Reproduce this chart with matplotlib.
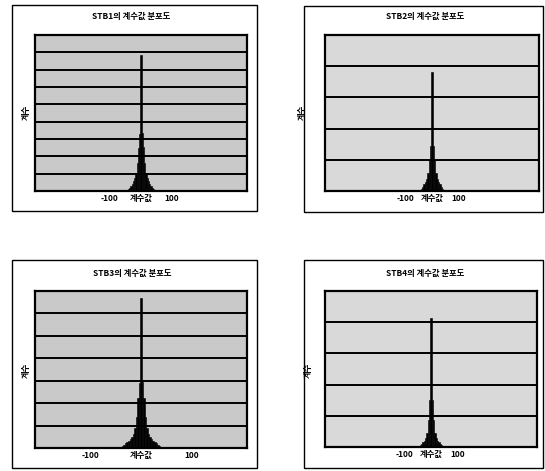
import matplotlib
matplotlib.use("Agg")
import matplotlib.pyplot as plt
from matplotlib.patches import Rectangle

plt.rcParams['font.family'] = ['Noto Sans CJK KR', 'DejaVu Sans']

# 계수값 histogram data (bin centre, count)
titles = ['STB1의 계수값 분포도', 'STB2의 계수값 분포도', 'STB3의 계수값 분포도', 'STB4의 계수값 분포도']

stb1_bins = [-48, -44, -40, -36, -32, -28, -24, -20, -16, -12, -8, -4, 0,
             4, 8, 12, 16, 20, 24, 28, 32, 36, 40, 44, 48]
stb1_counts = [25, 55, 105, 175, 265, 400, 550, 750, 1020, 1600, 2480, 3300, 7830,
               3350, 2520, 1640, 1040, 770, 565, 410, 275, 180, 110, 55, 27]

stb2_bins = [-45, -40, -35, -30, -25, -20, -15, -10, -5, 0, 5, 10, 15, 20, 25, 30, 35, 40, 45]
stb2_counts = [25, 60, 125, 220, 300, 400, 570, 990, 1430, 3800, 1450, 1000, 580, 400, 300, 220, 125, 60, 25]

stb3_bins = [-42, -39, -36, -33, -30, -27, -24, -21, -18, -15, -12, -9, -6, -3, 0,
             3, 6, 9, 12, 15, 18, 21, 24, 27, 30, 33, 36, 39, 42]
stb3_counts = [20, 40, 82, 138, 208, 262, 312, 380, 485, 625, 900, 1390, 2220, 2920, 6685,
               2950, 2240, 1400, 910, 630, 490, 385, 315, 266, 210, 140, 84, 42, 21]

stb4_bins = [-45, -40, -35, -30, -25, -20, -15, -10, -5, 0, 5, 10, 15, 20, 25, 30, 35, 40, 45]
stb4_counts = [25, 50, 90, 150, 200, 300, 450, 850, 1500, 4150, 1500, 850, 450, 300, 200, 150, 90, 50, 25]

bin_widths = [4, 5, 3, 5]
x_limits = [(-340, 340), (-400, 400), (-208, 208), (-400, 400)]
y_max = [9000, 5000, 7000, 5000]
x_ticks = [-100, 0, 100]
x_tick_labels = ['-100', '계수값', '100']
y_label = '계수'

W, H = 545, 471
fig = plt.figure(figsize=(W / 100, H / 100), dpi=100)
fig.patch.set_facecolor('white')


def fx(px):
    return px / W


def fy(py):
    return 1 - py / H


# panel frames (pixel coords: left, top, right, bottom)
frames = [(12, 5, 257, 211), (304, 6, 543, 212), (12, 260, 257, 468), (304, 260, 543, 468)]
# plot areas
areas = [(35, 35, 247, 191), (325, 35, 539, 191), (35, 291, 247, 448), (325, 291, 537, 447)]
title_pos = [(131, 16), (425, 16), (132, 273), (425, 273)]
ylabel_pos = [(26, 112), (302, 112), (26, 370), (308, 370)]
bg = ['#c9c9c9', '#d9d9d9', '#c9c9c9', '#d9d9d9']

all_bins = [stb1_bins, stb2_bins, stb3_bins, stb4_bins]
all_counts = [stb1_counts, stb2_counts, stb3_counts, stb4_counts]

for i in range(4):
    l, t, r, b = frames[i]
    fig.patches.append(Rectangle((fx(l), fy(b)), fx(r - l), (b - t) / H,
                                 transform=fig.transFigure, fill=False,
                                 edgecolor='black', linewidth=1.0))
    l, t, r, b = areas[i]
    ax = fig.add_axes([fx(l), fy(b), fx(r - l), (b - t) / H])
    ax.set_facecolor(bg[i])
    ax.bar(all_bins[i], all_counts[i], width=bin_widths[i], color='black',
           edgecolor='black', linewidth=0.4, zorder=3)
    ax.set_xlim(*x_limits[i])
    ax.set_ylim(0, y_max[i])
    ax.set_yticks(range(1000, y_max[i], 1000))
    ax.grid(axis='y', color='black', linewidth=1.4)
    ax.set_axisbelow(True)
    ax.tick_params(left=False, labelleft=False, bottom=False, pad=-1.5)
    ax.set_xticks(x_ticks)
    ax.set_xticklabels(x_tick_labels, fontsize=6, fontweight='bold')
    for s in ax.spines.values():
        s.set_linewidth(1.6)
    fig.text(fx(title_pos[i][0]), fy(title_pos[i][1]), titles[i], fontsize=6,
             fontweight='bold', ha='center', va='center')
    fig.text(fx(ylabel_pos[i][0]), fy(ylabel_pos[i][1]), y_label, fontsize=6,
             fontweight='bold', ha='center', va='center', rotation=90)

fig.savefig('out.png', dpi=100)
